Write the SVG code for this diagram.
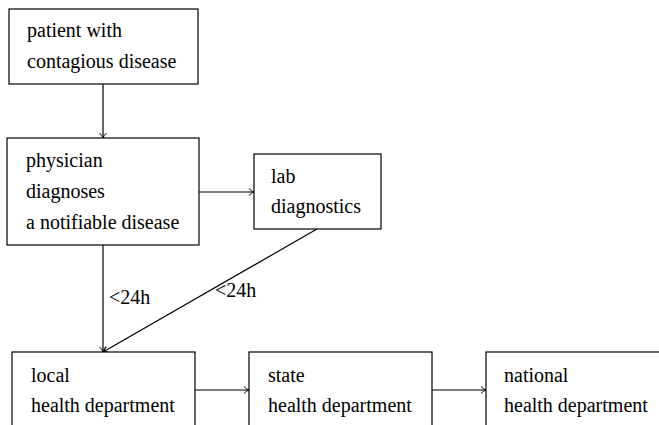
<svg xmlns="http://www.w3.org/2000/svg" width="659" height="425" viewBox="0 0 659 425">
<style>
.box{fill:#fff;stroke:#000;stroke-width:1.2}
.t{font-family:"Liberation Serif","Times New Roman",serif;font-size:20px;fill:#000}
.c{fill:none;stroke:#000;stroke-width:1.2}
</style>
<defs>
<marker id="ah" markerWidth="10" markerHeight="10" refX="8" refY="5" orient="auto" markerUnits="userSpaceOnUse">
<path d="M3,1.5 Q5,4 8,5 Q5,6 3,8.5" fill="none" stroke="#000" stroke-width="1"/>
</marker>
</defs>
<rect width="659" height="425" fill="#fff"/>
<g id="connectors">
<line class="c" x1="103" y1="84" x2="103" y2="138" marker-end="url(#ah)"/>
<line class="c" x1="199" y1="192" x2="254" y2="192" marker-end="url(#ah)"/>
<line class="c" x1="103" y1="245" x2="103" y2="352" marker-end="url(#ah)"/>
<line class="c" x1="317" y1="229" x2="103" y2="352" marker-end="url(#ah)"/>
<line class="c" x1="195" y1="390" x2="249" y2="390" marker-end="url(#ah)"/>
<line class="c" x1="432" y1="390" x2="486" y2="390" marker-end="url(#ah)"/>
<text class="t" x="109" y="304">&lt;24h</text>
<text class="t" x="215" y="297">&lt;24h</text>
</g>
<g id="patient">
<rect class="box" x="9" y="9" width="189" height="75"/>
<text class="t" x="27" y="37">patient with</text>
<text class="t" x="27" y="68">contagious disease</text>
</g>
<g id="physician">
<rect class="box" x="7" y="138" width="192" height="107"/>
<text class="t" x="26" y="167">physician</text>
<text class="t" x="26" y="198">diagnoses</text>
<text class="t" x="26" y="229">a notifiable disease</text>
</g>
<g id="lab">
<rect class="box" x="254" y="154" width="127" height="75"/>
<text class="t" x="271" y="183">lab</text>
<text class="t" x="271" y="213">diagnostics</text>
</g>
<g id="local">
<rect class="box" x="12" y="352" width="183" height="90"/>
<text class="t" x="31" y="382">local</text>
<text class="t" x="31" y="412">health department</text>
</g>
<g id="state">
<rect class="box" x="249" y="352" width="183" height="90"/>
<text class="t" x="268" y="382">state</text>
<text class="t" x="268" y="412">health department</text>
</g>
<g id="national">
<rect class="box" x="486" y="352" width="183" height="90"/>
<text class="t" x="504" y="382">national</text>
<text class="t" x="504" y="412">health department</text>
</g>
</svg>
